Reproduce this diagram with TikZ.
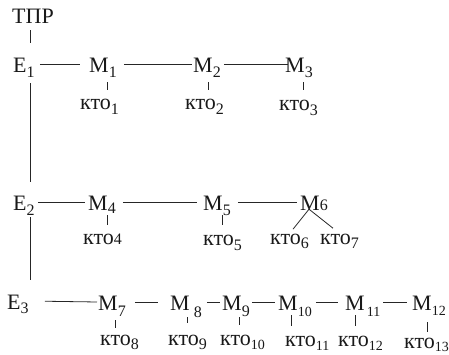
\documentclass[tikz,border=0pt]{standalone}
\usepackage{fontspec}
\setmainfont{Liberation Serif}
\newcommand{\sbs}[2]{\raisebox{-#1pt}{\fontsize{16}{16}\selectfont #2}}
\newcommand{\sbn}[2]{\raisebox{-#1pt}{\fontsize{14}{14}\selectfont #2}}
\newcommand{\lnk}[4]{\draw[ln, shorten <=#3pt, shorten >=#4pt] (#1.east) -- (#2.west);}
\tikzset{
  mn/.style={inner sep=0pt, anchor=base west, text height=16pt, text depth=0pt,
             font=\fontsize{22}{22}\selectfont, text=black!90},
  kt/.style={inner sep=0pt, anchor=base west, text height=12pt, text depth=0pt,
             font=\fontsize{22}{22}\selectfont, text=black!90},
  ln/.style={line width=0.8pt, draw=black!85},
}
\begin{document}
\begin{tikzpicture}[x=1pt,y=-1pt]
\useasboundingbox (0,0) rectangle (449,354);
% nodes
\node[mn] (TPR) at (12,23) {ТПР};
\node[mn] (E1) at (13,72) {Е\sbs{5}{1}};
\node[mn] (M1) at (89,72) {М\sbs{5}{1}};
\node[mn] (M2) at (193,72) {М\sbs{5}{2}};
\node[mn] (M3) at (285,72) {М\sbs{5}{3}};
\node[kt] (K1) at (80,109) {кто\sbs{5}{1}};
\node[kt] (K2) at (185,109) {кто\sbs{5}{2}};
\node[kt] (K3) at (279,110) {кто\sbs{5}{3}};
\node[mn] (E2) at (13,210) {Е\sbs{5}{2}};
\node[mn] (M4) at (88,210) {М\sbs{3}{4}};
\node[mn] (M5) at (203,210) {М\sbs{5}{5}};
\node[mn] (M6) at (300,210) {М\sbs{0}{6}};
\node[kt] (K4) at (83,244) {кто\sbs{0}{4}};
\node[kt] (K5) at (203,245) {кто\sbs{5}{5}};
\node[kt] (K6) at (270,244) {кто\sbs{4}{6}};
\node[kt] (K7) at (320,244) {кто\sbs{4}{7}};
\node[mn] (E3) at (7,309) {Е\sbs{4}{3}};
\node[mn] (M7) at (98,310) {М\sbs{6}{7}};
\node[mn] (M8) at (170,310) {М\hspace{4pt}\sbs{7}{8}};
\node[mn] (M9) at (222,310) {М\sbs{6}{9}};
\node[mn] (M10) at (278,310) {М\sbn{6}{10}};
\node[mn] (M11) at (345,310) {М\hspace{2pt}\sbn{6}{11}};
\node[mn] (M12) at (412,310) {М\sbn{5}{12}};
\node[kt] (K8) at (100,345) {кто\sbs{4}{8}};
\node[kt] (K9) at (168,345) {кто\sbs{4}{9}};
\node[kt] (K10) at (220,345) {кто\sbn{4}{10}};
\node[kt] (K11) at (285,346) {кто\sbn{4}{11}};
\node[kt] (K12) at (338,346) {кто\sbn{4}{12}};
\node[kt] (K13) at (404,348) {кто\sbn{3}{13}};
% spine
\coordinate (sp) at (30,0);
\draw[ln, shorten <=7pt, shorten >=13pt] (TPR.south -| sp) -- (E1.north -| sp);
\draw[ln, shorten <=11pt, shorten >=12pt] (E1.south -| sp) -- (E2.north -| sp);
\draw[ln, shorten <=7pt, shorten >=13pt] (E2.south -| sp) -- (E3.north -| sp);
% horizontal links
\lnk{E1}{M1}{5}{9}
\lnk{M1}{M2}{7}{1}
\lnk{M2}{M3}{3}{-3}
\lnk{E2}{M4}{3}{3}
\lnk{M4}{M5}{7}{6}
\lnk{M5}{M6}{7}{3}
\lnk{E3}{M7}{16}{1}
\lnk{M7}{M8}{9}{12}
\lnk{M8}{M9}{5}{2}
\lnk{M9}{M10}{2}{3}
\lnk{M10}{M11}{4}{7}
\lnk{M11}{M12}{3}{5}
% ticks to KTO
\draw[ln] (M1.south west) ++(18,10) -- ++(0,8);
\draw[ln] (M2.south west) ++(15,10) -- ++(0,8);
\draw[ln] (M3.south west) ++(18,10) -- ++(0,8);
\draw[ln] (M4.south west) ++(19,5) -- ++(0,10);
\draw[ln] (M5.south west) ++(19,5) -- ++(0,10);
\draw[ln] (M6.south west) ++(9,-1) -- ++(-16,20);
\draw[ln] (M6.south west) ++(9,-1) -- ++(24,19);
\draw[ln] (M7.south west) ++(17,10) -- ++(0,8);
\draw[ln] (M8.south west) ++(17,7) -- ++(0,6);
\draw[ln] (M9.south west) ++(17,7) -- ++(0,8);
\draw[ln] (M10.south west) ++(13,5) -- ++(0,11);
\draw[ln] (M11.south west) ++(10,5) -- ++(0,11);
\draw[ln] (M12.south west) ++(15,12) -- ++(0,10);
\end{tikzpicture}
\end{document}
